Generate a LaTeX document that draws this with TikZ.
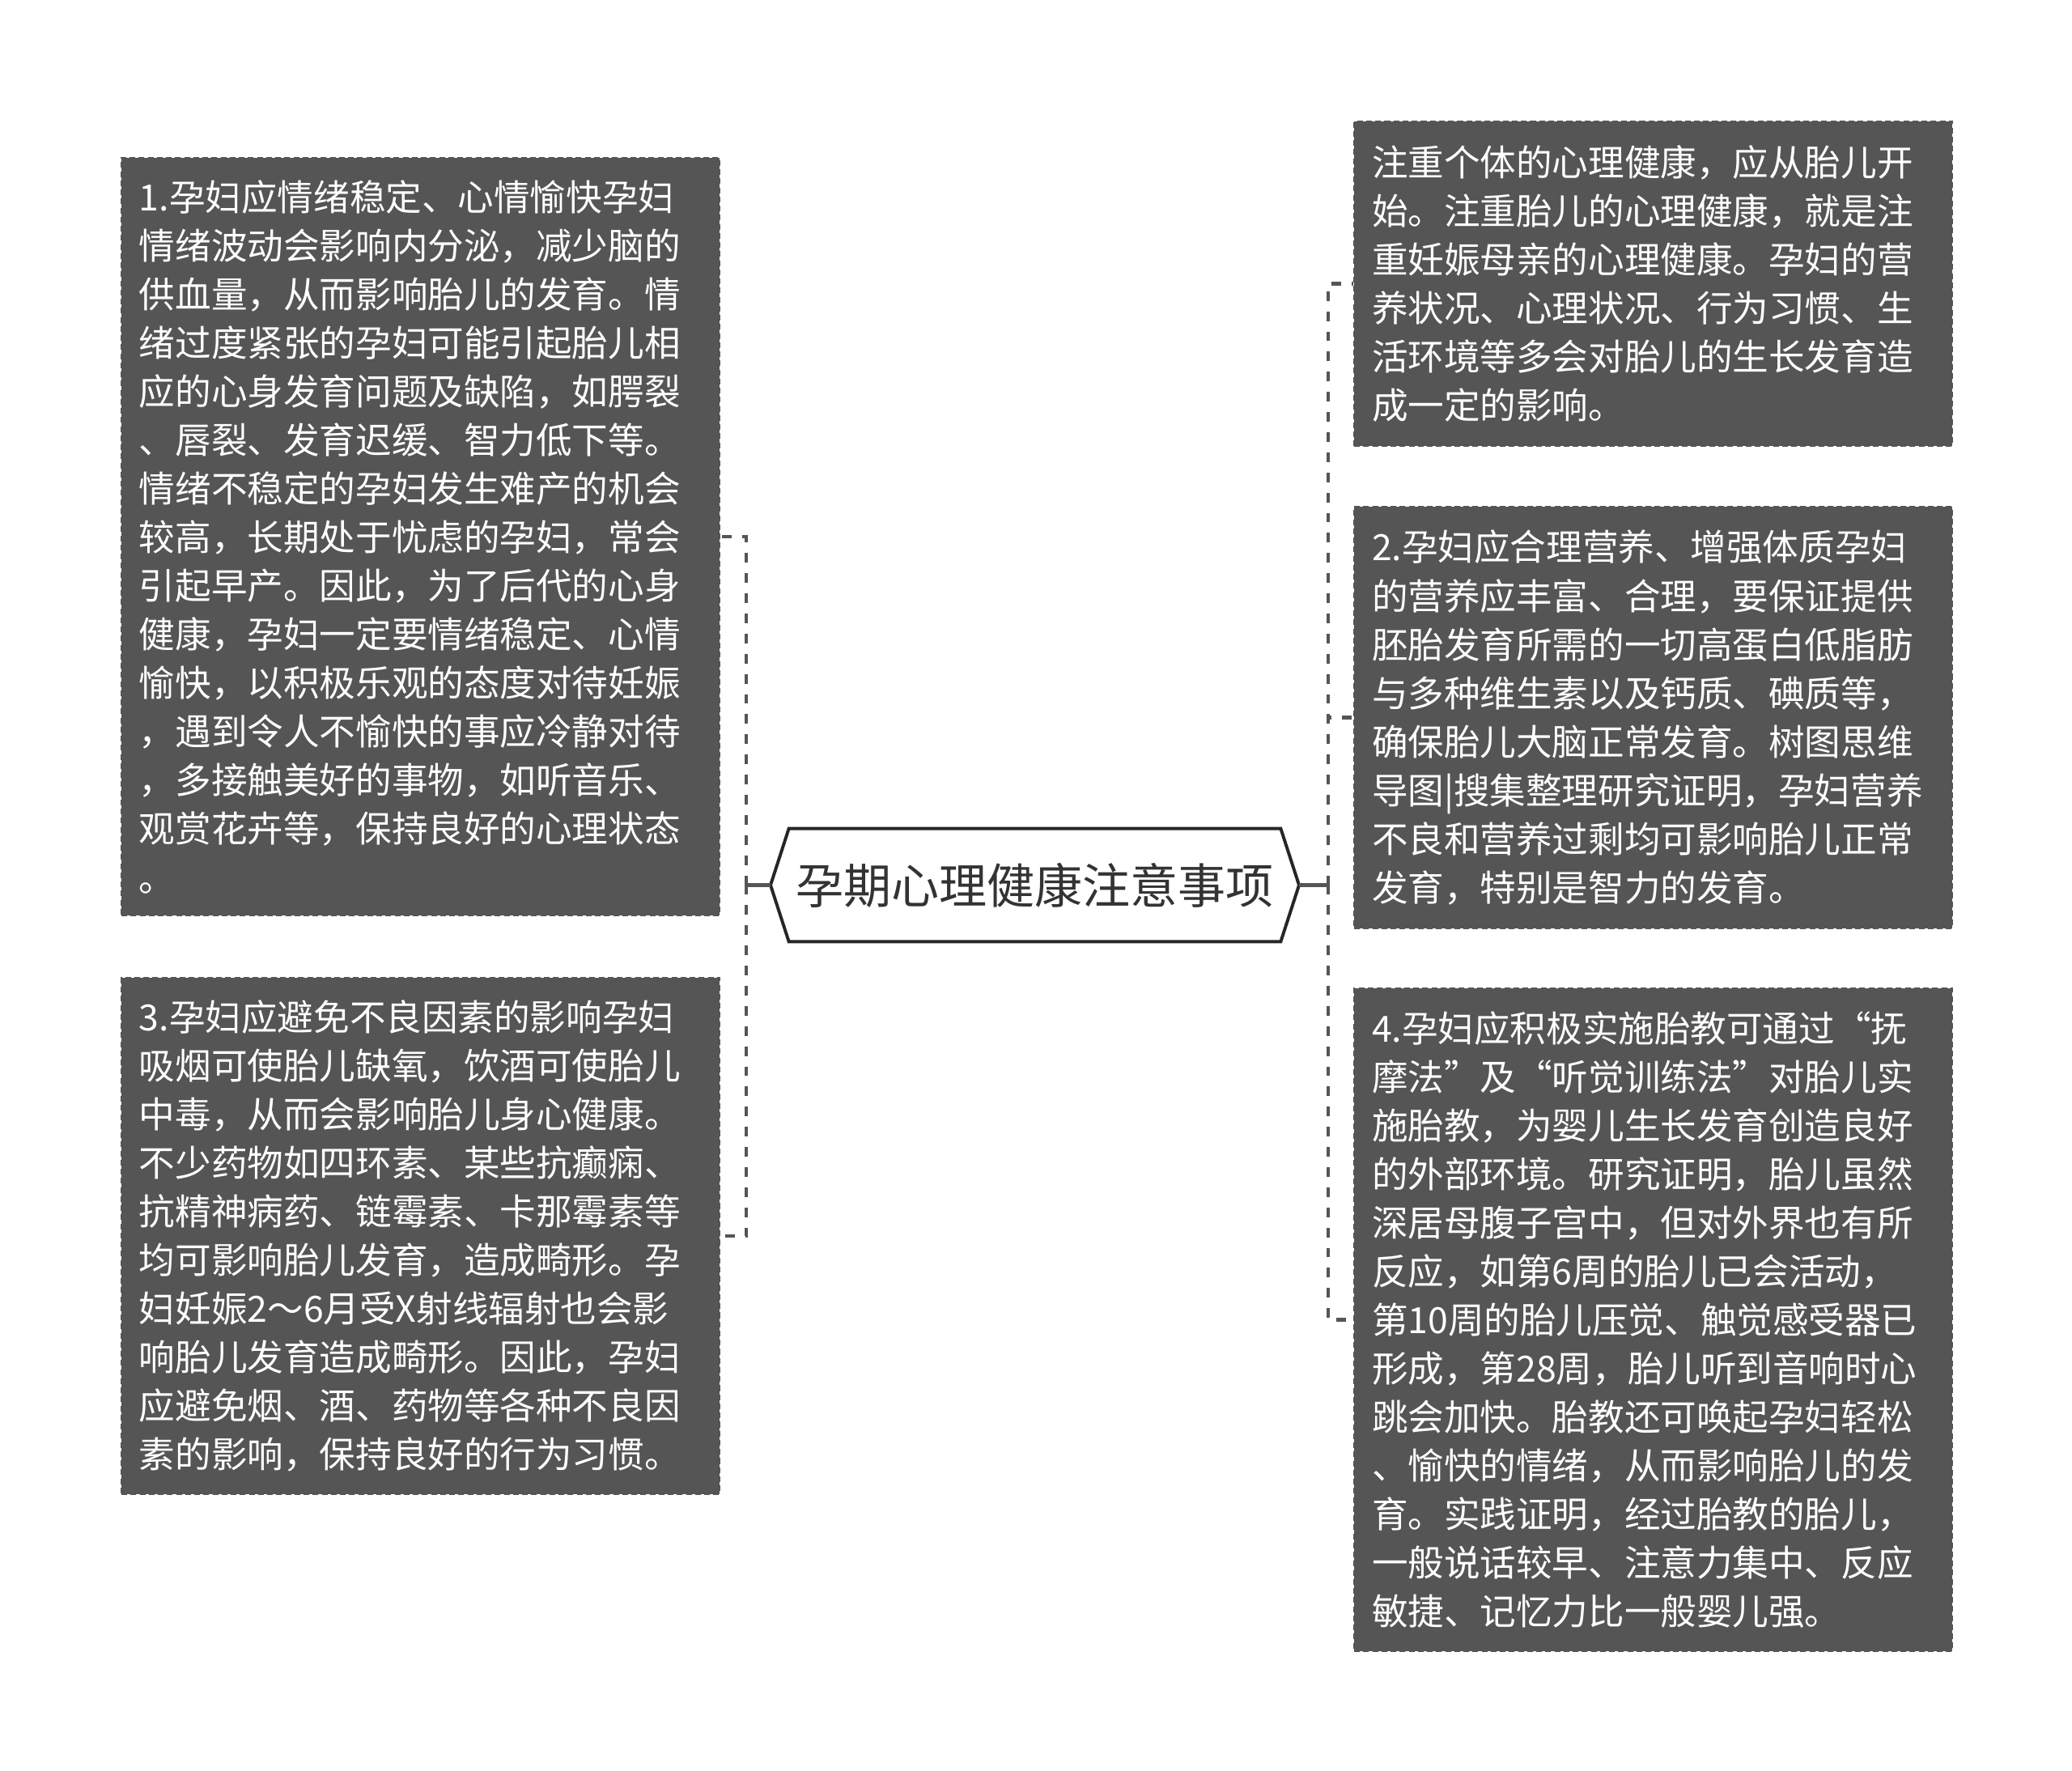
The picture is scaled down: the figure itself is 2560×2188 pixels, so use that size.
\documentclass[tikz,border=0pt]{standalone}
\usepackage{fontspec}
\newfontfamily\cjk{Noto Sans CJK SC}
\definecolor{boxgray}{HTML}{555555}
\definecolor{linkgray}{HTML}{555555}
\definecolor{hexline}{HTML}{262626}
\definecolor{hextext}{HTML}{333333}
\begin{document}
\begin{tikzpicture}[x=0.025cm,y=-0.025cm,
  txtbox/.style={fill=boxgray, draw=boxgray, line width=1.5pt, dash pattern=on 5pt off 3pt,
    text=white, font=\cjk\fontsize{31.7pt}{42.7pt}\selectfont, align=left,
    text width=494pt, inner xsep=15.6pt, inner ysep=0pt, minimum width=525pt, anchor=north west},
  centerbox/.style={draw=none, text=hextext, font=\cjk\fontsize{42pt}{50pt}\selectfont,
    minimum width=431.8pt, minimum height=98.9pt, inner sep=0pt},
  hexframe/.style={draw=hexline, line width=2.8pt, fill=white, line join=miter},
  solidlink/.style={draw=linkgray, line width=3.2pt},
  dashlink/.style={draw=linkgray, line width=3.2pt, dash pattern=on 8.5pt off 9.2pt}
]
\useasboundingbox (0,0) rectangle (2560,2188);

% center topic
\node[centerbox] (c) at (1278.5,1093.5) {};
\coordinate (cl) at (952,1093.5);
\coordinate (cr) at (1605,1093.5);
\path[hexframe] (c.north west) -- (c.north east) -- (cr) -- (c.south east) -- (c.south west) -- (cl) -- cycle;
\node[centerbox] (ct) at (c.center) {孕期心理健康注意事项};

% junctions
\coordinate (lj) at (922,1093.5);
\coordinate (rj) at (1641,1093.5);

% left boxes
\node[txtbox, minimum height=665.8pt] (b1) at (149,194) {1.孕妇应情绪稳定、心情愉快孕妇\\
情绪波动会影响内分泌，减少脑的\\
供血量，从而影响胎儿的发育。情\\
绪过度紧张的孕妇可能引起胎儿相\\
应的心身发育问题及缺陷，如腭裂\\
、唇裂、发育迟缓、智力低下等。\\
情绪不稳定的孕妇发生难产的机会\\
较高，长期处于忧虑的孕妇，常会\\
引起早产。因此，为了后代的心身\\
健康，孕妇一定要情绪稳定、心情\\
愉快，以积极乐观的态度对待妊娠\\
，遇到令人不愉快的事应冷静对待\\
，多接触美好的事物，如听音乐、\\
观赏花卉等，保持良好的心理状态\\
。};

\node[txtbox, minimum height=453.8pt] (b3) at (149,1207) {3.孕妇应避免不良因素的影响孕妇\\
吸烟可使胎儿缺氧，饮酒可使胎儿\\
中毒，从而会影响胎儿身心健康。\\
不少药物如四环素、某些抗癫痫、\\
抗精神病药、链霉素、卡那霉素等\\
均可影响胎儿发育，造成畸形。孕\\
妇妊娠2～6月受X射线辐射也会影\\
响胎儿发育造成畸形。因此，孕妇\\
应避免烟、酒、药物等各种不良因\\
素的影响，保持良好的行为习惯。};

% right boxes
\node[txtbox, minimum height=285.2pt] (r0) at (1672,149) {注重个体的心理健康，应从胎儿开\\
始。注重胎儿的心理健康，就是注\\
重妊娠母亲的心理健康。孕妇的营\\
养状况、心理状况、行为习惯、生\\
活环境等多会对胎儿的生长发育造\\
成一定的影响。};

\node[txtbox, minimum height=370.6pt] (b2) at (1672,625) {2.孕妇应合理营养、增强体质孕妇\\
的营养应丰富、合理，要保证提供\\
胚胎发育所需的一切高蛋白低脂肪\\
与多种维生素以及钙质、碘质等，\\
确保胎儿大脑正常发育。树图思维\\
导图|搜集整理研究证明，孕妇营养\\
不良和营养过剩均可影响胎儿正常\\
发育，特别是智力的发育。};

\node[txtbox, minimum height=582.6pt] (b4) at (1672,1220) {4.孕妇应积极实施胎教可通过“抚\\
摩法”及“听觉训练法”对胎儿实\\
施胎教，为婴儿生长发育创造良好\\
的外部环境。研究证明，胎儿虽然\\
深居母腹子宫中，但对外界也有所\\
反应，如第6周的胎儿已会活动，\\
第10周的胎儿压觉、触觉感受器已\\
形成，第28周，胎儿听到音响时心\\
跳会加快。胎教还可唤起孕妇轻松\\
、愉快的情绪，从而影响胎儿的发\\
育。实践证明，经过胎教的胎儿，\\
一般说话较早、注意力集中、反应\\
敏捷、记忆力比一般婴儿强。};

% connectors
\draw[solidlink] (cl) -- (lj);
\draw[solidlink] (cr) -- (rj);
\draw[dashlink] (lj) |- (b1.east);
\draw[dashlink] (lj) |- (b3.east);
\draw[dashlink] (rj) |- (r0.west);
\draw[dashlink] (rj) |- (b2.west);
\draw[dashlink] (rj) |- (b4.west);
\end{tikzpicture}
\end{document}
